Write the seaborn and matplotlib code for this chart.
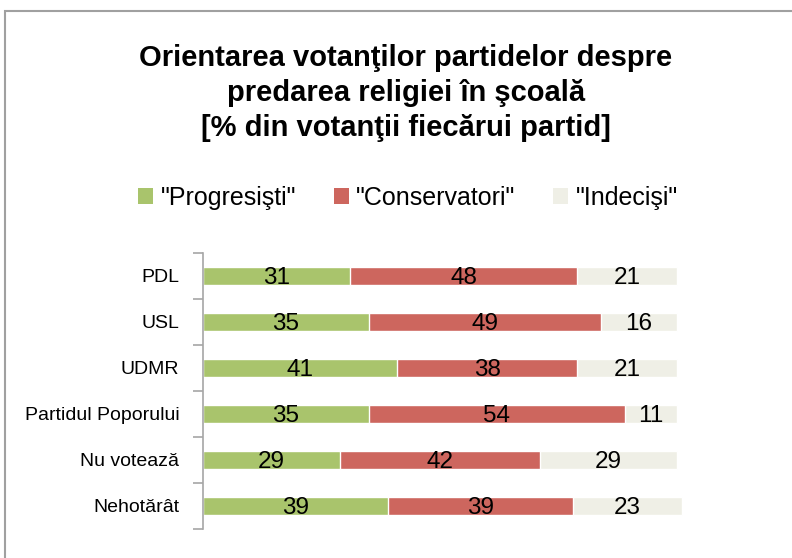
import matplotlib.pyplot as plt
import matplotlib.patches as mpatches
import seaborn as sns
import pandas as pd
from matplotlib import font_manager

# Date din grafic
partide = ["PDL", "USL", "UDMR", "Partidul Poporului", "Nu votează", "Nehotărât"]
progresisti = [31, 35, 41, 35, 29, 39]
conservatori = [48, 49, 38, 54, 42, 39]
indecisi = [21, 16, 21, 11, 29, 23]
serii = ['"Progresişti"', '"Conservatori"', '"Indecişi"']
culori = ["#a9c46c", "#cd665e", "#efefe6"]

sns.set_style("white")
names = {f.name for f in font_manager.fontManager.ttflist}
font = "Liberation Sans Narrow" if "Liberation Sans Narrow" in names else "Liberation Sans"
plt.rcParams["font.family"] = [font, "DejaVu Sans"]
plt.rcParams["text.color"] = "black"
plt.rcParams["ytick.color"] = "black"

df = pd.DataFrame({"partid": partide, "prog": progresisti, "cons": conservatori, "ind": indecisi})
df["cum2"] = df["prog"] + df["cons"]
df["cum3"] = df["cum2"] + df["ind"]

fig = plt.figure(figsize=(7.92, 5.58), dpi=100)
ax = fig.add_axes([203 / 792, 1 - 529 / 558, 474 / 792, 276 / 558])

# straturi cumulate (de la total spre primul segment)
for col, c in zip(["cum3", "cum2", "prog"], culori[::-1]):
    sns.barplot(data=df, x=col, y="partid", color=c, width=0.41, ax=ax,
                saturation=1, orient="h")
for p in ax.patches:
    p.set_clip_on(False)

# etichete valori
for i in range(len(partide)):
    starts = [0, df["prog"][i], df["cum2"][i]]
    vals = [df["prog"][i], df["cons"][i], df["ind"][i]]
    for s, v in zip(starts, vals):
        ax.text(s + v / 2, i + 0.05, str(v), ha="center", va="center", fontsize=17.5, color="black")

ax.set_xlim(0, 100)
ax.set_ylim(5.5, -0.5)
ax.set_xlabel("")
ax.set_ylabel("")
ax.set_xticks([])
ax.set_yticks(range(len(partide)))
ax.set_yticklabels(partide, fontsize=14)
ax.set_yticks([i - 0.5 for i in range(len(partide) + 1)], minor=True)
ax.tick_params(axis="y", which="major", length=0, pad=17)
ax.tick_params(axis="y", which="minor", length=7, color="#a6a6a6", width=1.2, left=True)
for s in ["top", "right", "bottom"]:
    ax.spines[s].set_visible(False)
ax.spines["left"].set_color("#a6a6a6")
ax.spines["left"].set_linewidth(1.2)

# titlu
fig.text(406 / 792, 1 - 44 / 558,
         "Orientarea votanţilor partidelor despre\npredarea religiei în şcoală\n[% din votanţii fiecărui partid]",
         ha="center", va="top", fontsize=21, fontweight="bold", linespacing=1.32)

# legenda
handles = [mpatches.Patch(facecolor=c, edgecolor="none", label=l) for c, l in zip(culori, serii)]
fig.legend(handles=handles, loc="center", bbox_to_anchor=(408 / 792, 1 - 198 / 558), ncol=3,
           frameon=False, fontsize=18, handlelength=0.6, handleheight=0.6, handletextpad=0.3,
           columnspacing=1.5)

# chenar exterior
fig.patches.append(mpatches.Rectangle((5 / 792, -0.1), 1.2, 1 - 11 / 558 + 0.1, transform=fig.transFigure,
                                      fill=False, edgecolor="#a0a0a0", linewidth=1.5))

fig.savefig("out.png", dpi=100)
